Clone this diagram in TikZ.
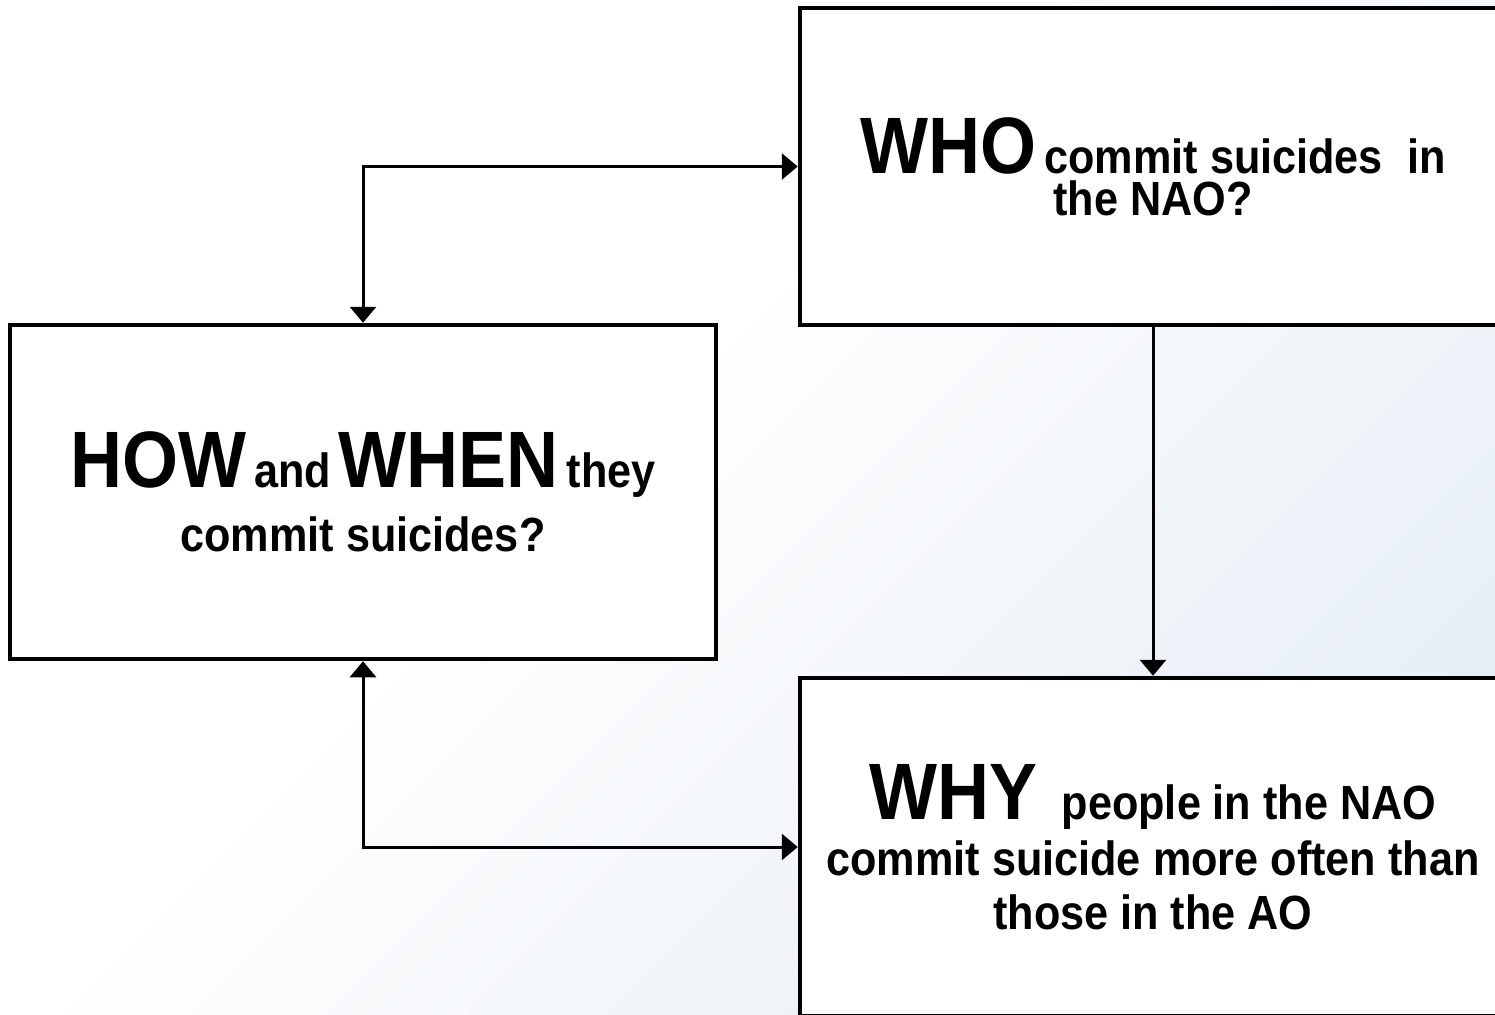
\documentclass[tikz,border=0pt]{standalone}
\usepackage{fontspec}
\setmainfont[FakeStretch=0.9]{Liberation Sans}
\usepackage{xcolor}
\usetikzlibrary{arrows.meta,positioning,calc}

\definecolor{bgblue}{RGB}{212,225,239}
\pgfdeclarehorizontalshading{bgfade}{100bp}{color(0bp)=(white); color(44bp)=(white); color(100bp)=(bgblue)}

\newcommand{\bigword}[1]{{\fontsize{40}{44}\selectfont #1}}

\tikzset{
  qbox/.style={draw, fill=white, line width=2.25pt, minimum width=353pt,
    align=center, font=\bfseries\fontsize{24}{27}\selectfont},
  link/.style={line width=1.5pt, >={Triangle[length=8pt,width=13pt]}}
}

\begin{document}
\begin{tikzpicture}[x=0.5pt,y=-0.5pt]
	\useasboundingbox (0,0) rectangle (1495,1014);
	\clip (0,0) rectangle (1495,1014);
	\shade[shading=bgfade, shading angle=-45] (0,0) rectangle (1495,1014);
	% the three questions
	\node[qbox, minimum height=158.5pt] (who) at (1153,166.5)
		{\bigword{WHO}\,commit suicides\ \ in\\[-6pt] the NAO?};
	\node[qbox, minimum height=167pt] (how) at (363,492)
		{\bigword{HOW}\,and\,\bigword{WHEN}\,they\\[5pt] commit suicides?};
	\node[qbox, minimum height=169pt] (why) at (1153,847)
		{\bigword{WHY}\ \ people in the NAO\\[1pt] commit suicide more often than\\ those in the AO};
	% links
	\draw[link,<->] (how.north) |- (who.west);
	\draw[link,<->] (how.south) |- (why.west);
	\draw[link,->] (who.south) -- (why.north);
\end{tikzpicture}
\end{document}
